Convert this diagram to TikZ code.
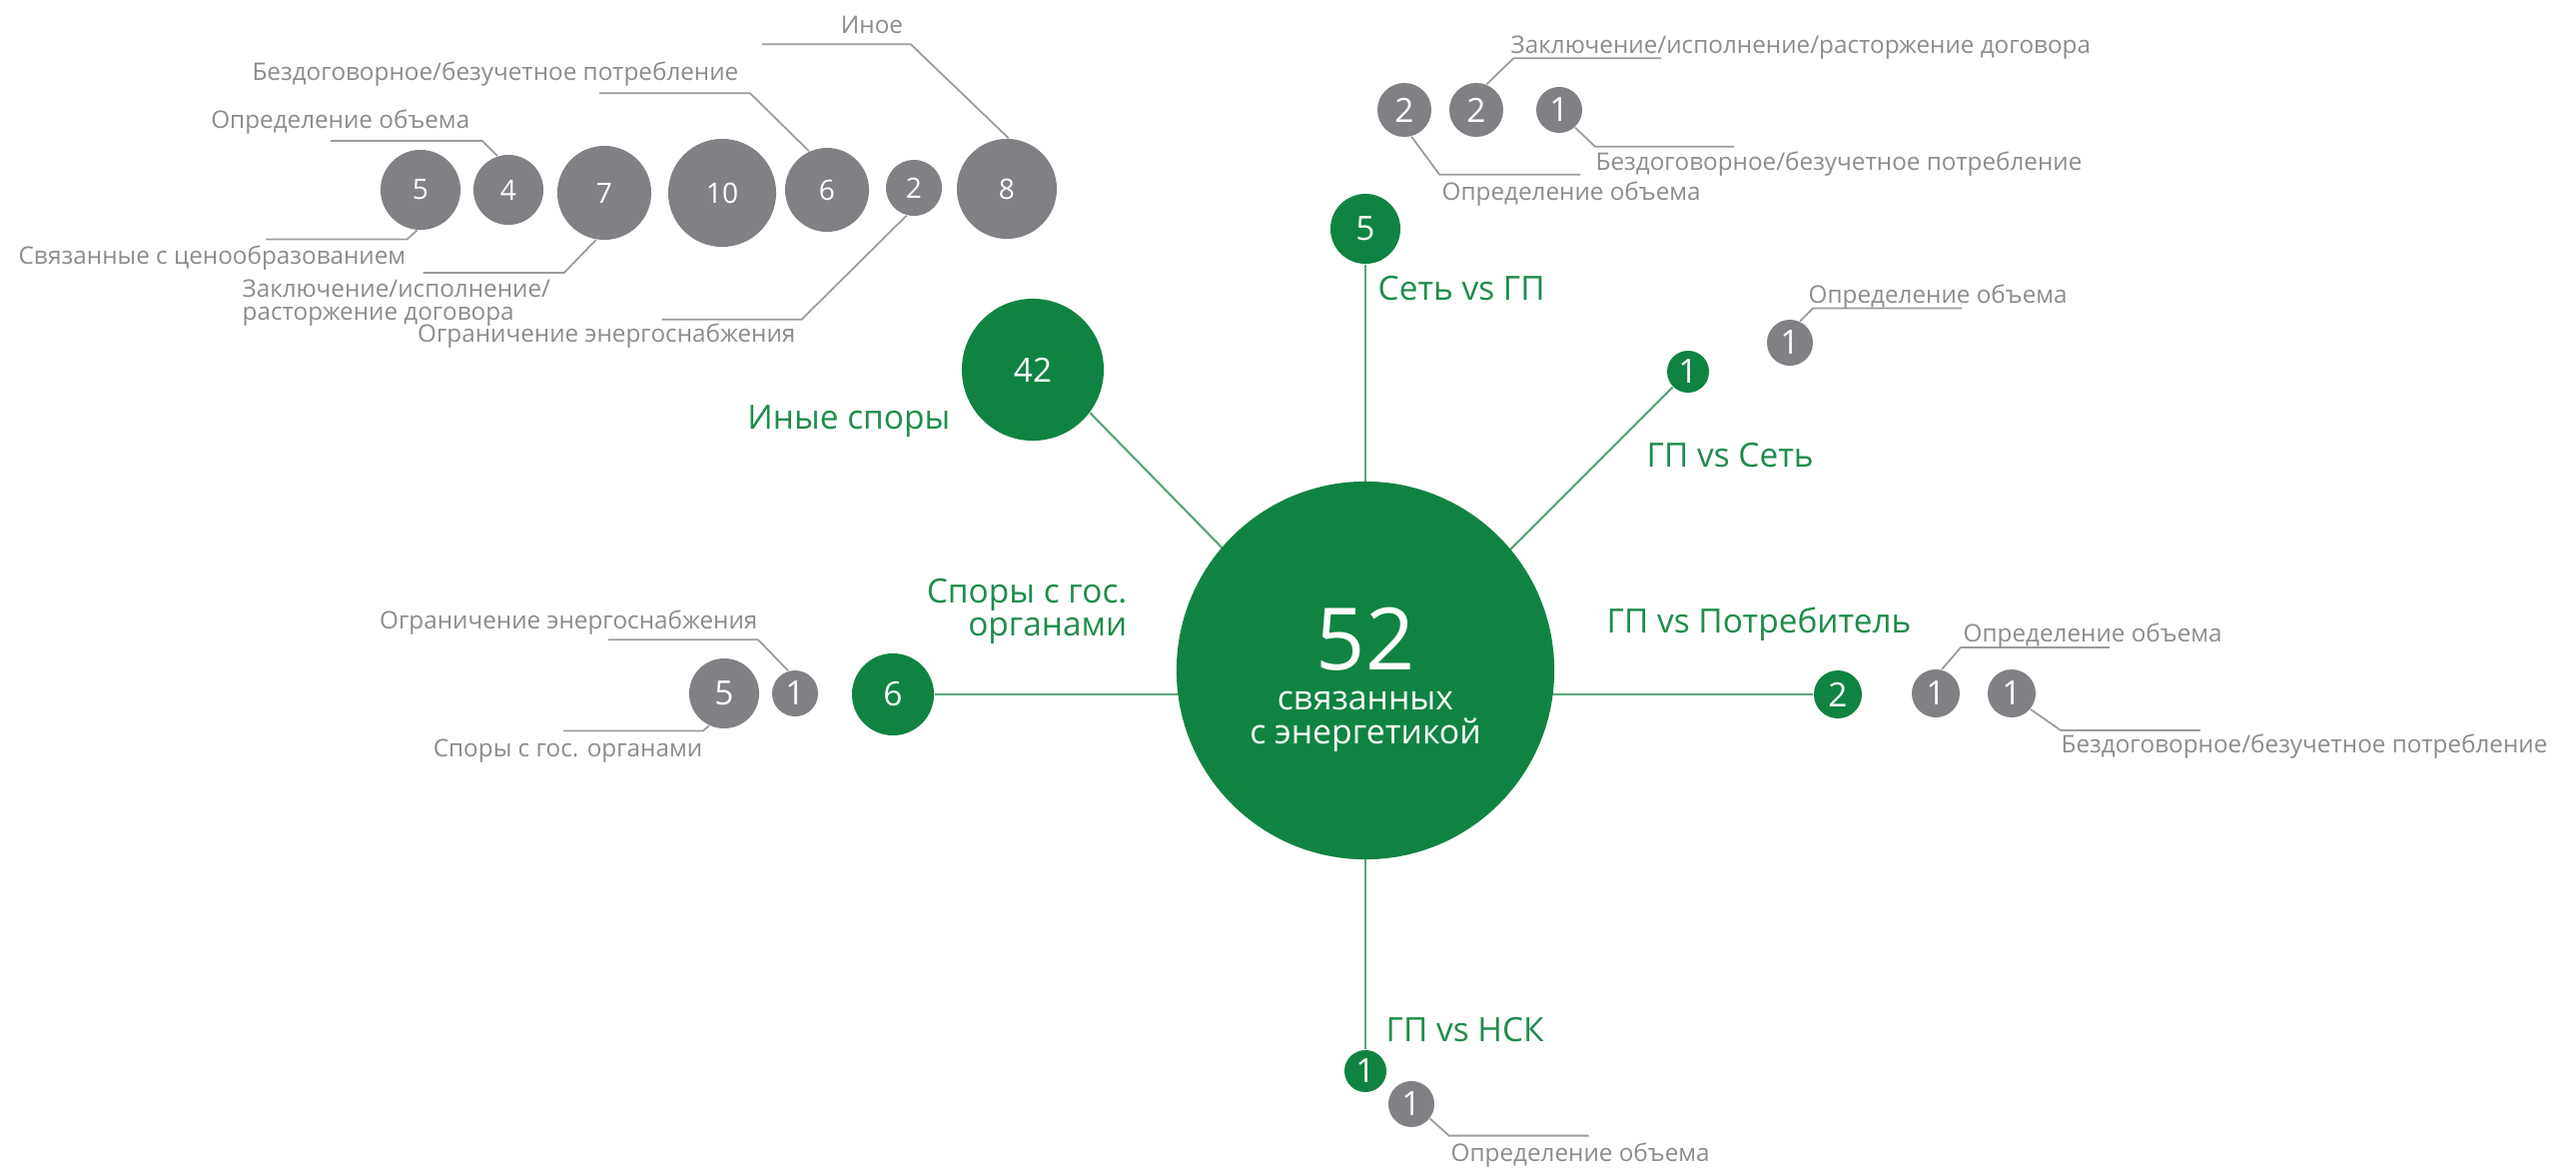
\documentclass[tikz,border=0pt]{standalone}
\usepackage{fontspec}
\setmainfont{Open Sans}
\usetikzlibrary{backgrounds}
\definecolor{energygreen}{RGB}{16,131,66}
\definecolor{labelgreen}{RGB}{30,140,75}
\definecolor{linkgreen}{RGB}{90,165,120}
\definecolor{bubblegrey}{RGB}{128,129,133}
\definecolor{textgrey}{RGB}{140,140,140}
\definecolor{leadergrey}{RGB}{155,155,155}

\begin{document}
\begin{tikzpicture}[x=0.01cm,y=-0.01cm]
 \tikzset{bubble/.style={
    circle,
    inner sep=0pt,
    text=white,
    minimum size=#1*0.02cm,
    font=\fontsize{9.5}{11}\selectfont
  },
  green bubble/.style={bubble=#1, fill=energygreen},
  grey bubble/.style={bubble=#1, fill=bubblegrey},
  small grey/.style={grey bubble=#1, font=\fontsize{8}{10}\selectfont},
  branch/.style={text=labelgreen, inner sep=0pt, font=\fontsize{9.5}{9.4}\selectfont},
  note/.style={text=textgrey, inner sep=0pt, font=\fontsize{6.9}{6.6}\selectfont},
  link/.style={draw=linkgreen, line width=0.6pt},
  leader/.style={draw=leadergrey, line width=0.5pt}
}
\useasboundingbox (0,0) rectangle (2579,1169);

\node[green bubble=189] (main) at (1367,671) {};
\node[text=white, inner sep=0pt, font=\fontsize{24.5}{25}\selectfont] (total) at (1367,640) {52};
\node[text=white, inner sep=0pt, align=center, font=\fontsize{9.6}{9.7}\selectfont] (caption) at (1367,722) {связанных\\с энергетикой};
\coordinate (hub) at (1367,695);

\node[green bubble=35] (net) at (1367,229) {5};
\node[green bubble=21] (seller) at (1690,372) {1};
\node[green bubble=24] (consumer) at (1840,695) {2};
\node[green bubble=21] (nsk) at (1367,1072) {1};
\node[green bubble=41] (state) at (894,695) {6};
\node[green bubble=71] (other) at (1034,370) {42};

\begin{scope}[on background layer]
\draw[link] (hub) -- (net);
\draw[link] (hub) -- (seller);
\draw[link] (hub) -- (consumer);
\draw[link] (hub) -- (nsk);
\draw[link] (hub) -- (state);
\draw[link] (hub) -- (other.-37);
\end{scope}

\node[branch, anchor=base west] (netlabel) at (1379,300) {Сеть vs ГП};
\node[branch, anchor=base west] (sellerlabel) at (1648,467) {ГП vs Сеть};
\node[branch, anchor=base west] (consumerlabel) at (1608,633) {ГП vs Потребитель};
\node[branch, anchor=base west] (nsklabel) at (1387,1042) {ГП vs НСК};
\node[branch, anchor=base east] (otherlabel) at (952,429) {Иные споры};
\node[branch, anchor=north east, align=right] (statelabel) at (1129,579) {Споры с гос.\\органами};

\node[grey bubble=27] (netvol) at (1406,110) {2};
\node[grey bubble=27] (netdeal) at (1478,110) {2};
\node[grey bubble=23] (netfree) at (1561,110) {1};
\draw[leader] (netdeal.68) -- ++(27,-26) -- ++(148,0);
\draw[leader] (netfree.-48) -- ++(20,19) -- ++(139,0);
\draw[leader] (netvol.-75) -- ++(28,38) -- ++(141,0);
\node[note, anchor=base west] (netdealnote) at (1512,53) {Заключение/исполнение/расторжение договора};
\node[note, anchor=base west] (netfreenote) at (1597,170) {Бездоговорное/безучетное потребление};
\node[note, anchor=base west] (netvolnote) at (1443,200) {Определение объема};

\node[grey bubble=23] (sellervol) at (1792,343) {1};
\draw[leader] (sellervol.65) -- ++(13,-13) -- ++(149,0);
\node[note, anchor=base west] (sellervolnote) at (1810,303) {Определение объема};

\node[grey bubble=24] (consumervol) at (1938,694) {1};
\node[grey bubble=24] (consumerfree) at (2014,694) {1};
\draw[leader] (consumervol.76) -- ++(19,-22) -- ++(149,0);
\draw[leader] (consumerfree.-40) -- ++(30,21) -- ++(140,0);
\node[note, anchor=base west] (consumervolnote) at (1965,642) {Определение объема};
\node[note, anchor=base west] (consumerfreenote) at (2063,753) {Бездоговорное/безучетное потребление};

\node[grey bubble=35] (statestate) at (725,694) {5};
\node[grey bubble=23] (statelimit) at (796,694) {1};
\draw[leader] (statelimit.107) -- ++(-30,-31) -- ++(-150,0);
\draw[leader] (statestate.-115) -- ++(-6,5) -- ++(-140,0);
\node[note, anchor=base east] (statelimitnote) at (759,629) {Ограничение энергоснабжения};
\node[note, anchor=base east] (statestatenote) at (704,757) {Споры с гос. органами};

\node[grey bubble=23] (nskvol) at (1413,1105) {1};
\draw[leader] (nskvol.-38) -- ++(19,17) -- ++(140,0);
\node[note, anchor=base west] (nskvolnote) at (1452,1162) {Определение объема};

\node[small grey=40] (otherprice) at (421,190) {5};
\node[small grey=35] (othervol) at (509,190) {4};
\node[small grey=47] (otherdeal) at (605,193) {7};
\node[small grey=54] (otherplain) at (723,193) {10};
\node[small grey=42] (otherfree) at (828,190) {6};
\node[small grey=28] (otherlimit) at (915,188) {2};
\node[small grey=50] (otherrest) at (1008,189) {8};
\draw[leader] (otherrest.88) -- ++(-98,-94) -- ++(-149,0);
\draw[leader] (otherfree.115) -- ++(-59,-58) -- ++(-151,0);
\draw[leader] (othervol.108) -- ++(-15,-15) -- ++(-152,0);
\draw[leader] (otherprice.-95) -- ++(-10,9) -- ++(-141,0);
\draw[leader] (otherdeal.-100) -- ++(-32,33) -- ++(-141,0);
\draw[leader] (otherlimit.-105) -- ++(-105,104) -- ++(-140,0);
\node[note, anchor=base] (otherrestnote) at (873,33) {Иное};
\node[note, anchor=base east] (otherfreenote) at (740,80) {Бездоговорное/безучетное потребление};
\node[note, anchor=base east] (othervolnote) at (471,128) {Определение объема};
\node[note, anchor=base east] (otherpricenote) at (407,264) {Связанные с ценообразованием};
\node[note, anchor=north west, align=left] (otherdealnote) at (242,279) {Заключение/исполнение/\\расторжение договора};
\node[note, anchor=base east] (otherlimitnote) at (797,342) {Ограничение энергоснабжения};
\end{tikzpicture}
\end{document}
